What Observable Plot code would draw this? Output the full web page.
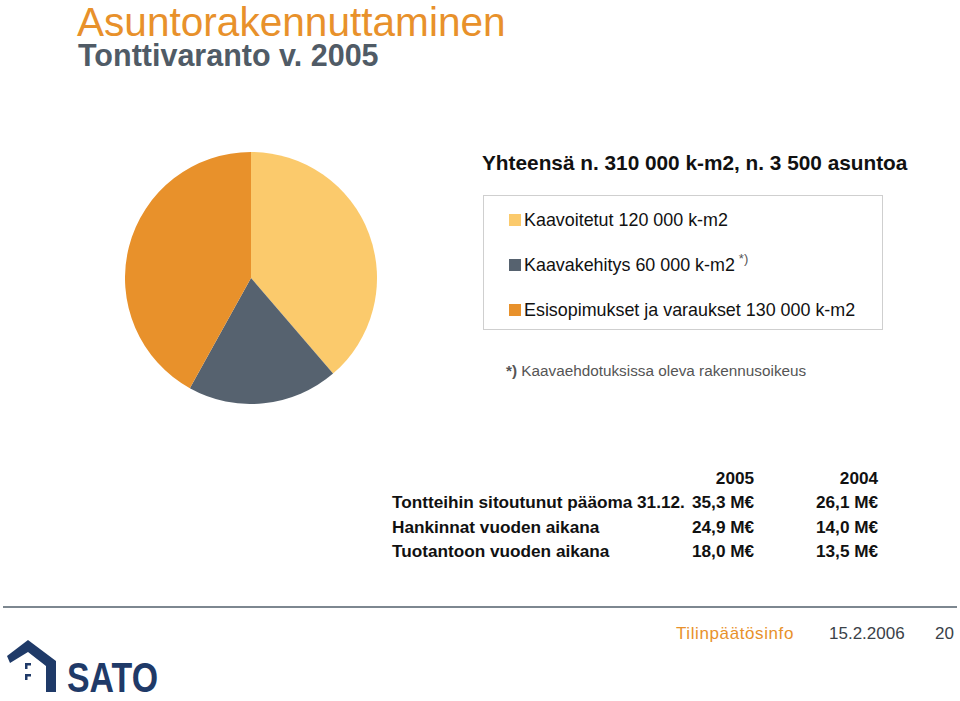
<!DOCTYPE html>
<html>
<head>
<meta charset="utf-8">
<script src="https://cdn.jsdelivr.net/npm/d3@7"></script>
<script src="https://cdn.jsdelivr.net/npm/@observablehq/plot@0.6"></script>
<style>
  html, body { margin: 0; padding: 0; background: #fff; }
  body { width: 960px; height: 701px; position: relative; overflow: hidden; font-family: "Liberation Sans", Arial, sans-serif; }
  .abs { position: absolute; white-space: nowrap; line-height: 1; }
  #title { left: 77px; top: 0px; font-size: 40.6px; line-height: 1.12; color: #E8912B; }
  #subtitle { left: 78px; top: 40px; font-size: 30.5px; font-weight: bold; color: #505B66; }
  #total { left: 482px; top: 153px; font-size: 20.8px; font-weight: bold; color: #111; }
  #legendbox { left: 483px; top: 195px; width: 398px; height: 133px; border: 1px solid #cfcfcf; }
  .leg { position: absolute; left: 25px; font-size: 17.9px; color: #111; display: flex; align-items: center; line-height: 1.15; }
  .sw { width: 12px; height: 12px; margin-right: 3px; display: inline-block; }
  #note { left: 506px; top: 363px; font-size: 15.3px; color: #555; }
  #table { left: 392px; top: 466px; font-size: 17.2px; font-weight: bold; color: #111; }
  #table table { border-collapse: collapse; table-layout: fixed; }
  #table td { padding: 0; height: 24.3px; line-height: 24.3px; }
  #rule { left: 3px; top: 606px; width: 954px; height: 2px; background: #7D8790; }
  .foot { top: 625px; font-size: 17px; }
</style>
</head>
<body>
<div id="title" class="abs">Asuntorakennuttaminen</div>
<div id="subtitle" class="abs">Tonttivaranto v. 2005</div>
<div id="total" class="abs">Yhteensä n. 310 000 k-m2, n. 3 500 asuntoa</div>
<div id="legendbox" class="abs"></div>
<div id="note" class="abs"><b>*)</b> Kaavaehdotuksissa oleva rakennusoikeus</div>
<div id="table" class="abs"></div>
<div id="rule" class="abs"></div>
<div class="abs foot" style="left:676px;color:#E8912B;letter-spacing:0.6px;">Tilinpäätösinfo</div>
<div class="abs foot" style="left:829px;color:#3A4148;">15.2.2006</div>
<div class="abs foot" style="left:935px;color:#3A4148;">20</div>
<svg class="abs" style="left:6px;top:634px;" width="240" height="67" viewBox="0 0 240 67">
  <path d="M1 22 L22 6 L50 27 L50 58 L40 58 L40 32 L22 18 L4 29 Z" fill="#1F3A68"/>
  <rect x="19" y="29" width="6" height="2.5" fill="#1F3A68"/>
  <rect x="19" y="29" width="2.5" height="6" fill="#1F3A68"/>
  <rect x="19" y="40" width="6" height="2.5" fill="#1F3A68"/>
  <rect x="19" y="40" width="2.5" height="6" fill="#1F3A68"/>
  <text x="61" y="58" font-family="Liberation Sans, sans-serif" font-weight="bold" font-size="42" fill="#1F3A68" textLength="91" lengthAdjust="spacingAndGlyphs">SATO</text>
</svg>
<div id="chart" class="abs" style="left:125px;top:152px;"></div>
<script>
// Pie data
const categories = ["Kaavoitetut", "Kaavakehitys", "Esisopimukset ja varaukset"];
const amounts = [120000, 60000, 130000];
const legendLabels = ["Kaavoitetut 120 000 k-m2", "Kaavakehitys 60 000 k-m2", "Esisopimukset ja varaukset 130 000 k-m2"];
const colors = ["#FBCA6C", "#56626F", "#E8912B"];

// Table data
const tableYears = ["2005", "2004"];
const tableRows = ["Tontteihin sitoutunut pääoma 31.12.", "Hankinnat vuoden aikana", "Tuotantoon vuoden aikana"];
const values2005 = ["35,3 M€", "24,9 M€", "18,0 M€"];
const values2004 = ["26,1 M€", "14,0 M€", "13,5 M€"];

const data = categories.map((c, i) => ({category: c, value: amounts[i]}));
const arcs = d3.pie().sort(null).value(d => d.value)(data);

const chart = Plot.plot({
  width: 252,
  height: 252,
  margin: 0,
  x: {domain: [-1, 1], axis: null},
  y: {domain: [-1, 1], axis: null},
  color: {domain: categories, range: colors},
  marks: [
    Plot.dot(arcs, {
      x: () => 0,
      y: () => 0,
      fill: d => d.data.category,
      render: (index, scales, values, dimensions, context) => {
        const cx = scales.x(0), cy = scales.y(0);
        const r = Math.abs(scales.x(1) - scales.x(0));
        const g = d3.create("svg:g").attr("transform", `translate(${cx},${cy})`);
        const arcGen = d3.arc().innerRadius(0).outerRadius(r);
        for (const i of index) {
          g.append("path").attr("d", arcGen(arcs[i])).attr("fill", values.fill[i]);
        }
        return g.node();
      }
    })
  ]
});
document.getElementById("chart").appendChild(chart);

// Legend
const box = document.getElementById("legendbox");
legendLabels.forEach((lab, i) => {
  const row = document.createElement("div");
  row.className = "leg";
  row.style.top = (14 + i * 45) + "px";
  row.innerHTML = `<span class="sw" style="background:${colors[i]}"></span><span>${lab}</span>` +
    (i === 1 ? `<span style="font-size:13px;color:#555;position:relative;top:-6px;margin-left:4px;">*)</span>` : "");
  box.appendChild(row);
});

// Table
let html = `<table><colgroup><col style="width:300px"><col style="width:60px"><col style="width:124px"></colgroup>` +
  `<tr><td></td><td style="text-align:right">${tableYears[0]}</td><td style="text-align:right">${tableYears[1]}</td></tr>`;
tableRows.forEach((r, i) => {
  html += `<tr><td>${r}</td><td style="text-align:right">${values2005[i]}</td><td style="text-align:right">${values2004[i]}</td></tr>`;
});
html += "</table>";
document.getElementById("table").innerHTML = html;
</script>
</body>
</html>
